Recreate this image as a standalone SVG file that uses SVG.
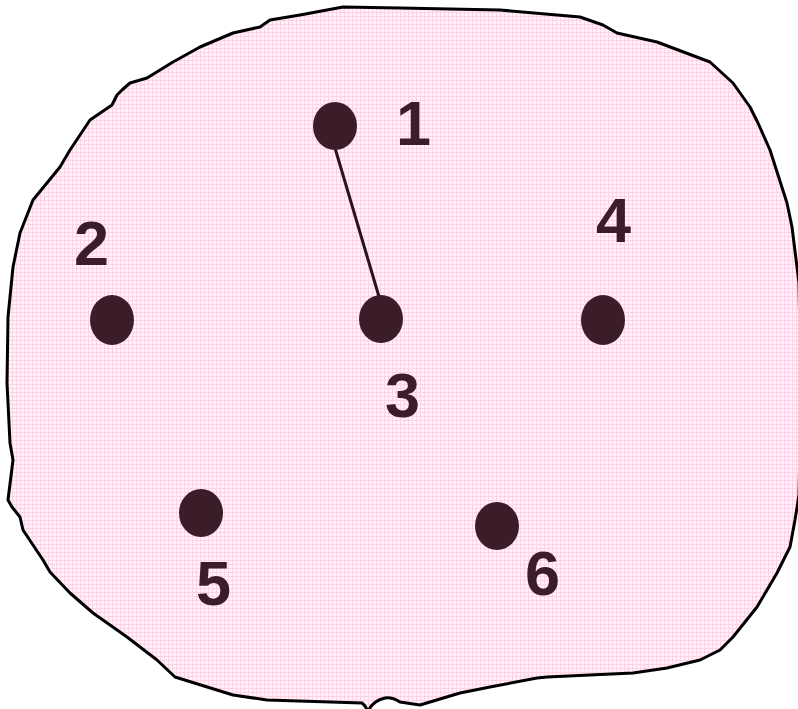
<svg xmlns="http://www.w3.org/2000/svg" width="798" height="709" viewBox="0 0 798 709">
<defs>
<pattern id="grid" width="4" height="4" patternUnits="userSpaceOnUse">
<rect width="4" height="4" fill="#fff2f8"/>
<rect width="4" height="1" fill="#fcd3e6"/>
<rect width="1" height="4" fill="#fcd3e6"/>
</pattern>
</defs>
<style>
.dot{fill:#3a1d28}
.lbl{font-family:"Liberation Sans",Arial,sans-serif;font-weight:bold;font-size:63px;fill:#3a1d28}
.edge{stroke:#2a141c;stroke-width:3;fill:none}
</style>
<g id="region">
<path d="M 400 702 L 420 705 L 460 693 L 490 687 L 537 678 L 547 677 L 633 673 L 667 668 L 700 660 L 720 650 L 733 637 L 757 607 L 777 573 L 790 547 L 795 520 L 799 495 L 801 400 L 799 283 L 792 227 L 787 203 L 770 150 L 758 123 L 750 107 L 733 83 L 710 62 L 657 42 L 617 33 L 603 25 L 580 17 L 500 10 L 400 8 L 343 7 L 300 15 L 270 20 L 260 27 L 233 33 L 200 47 L 173 62 L 147 78 L 130 83 L 122 90 L 117 95 L 112 105 L 90 120 L 70 150 L 60 167 L 33 200 L 20 233 L 13 267 L 8 317 L 7 383 L 10 443 L 13 460 L 8 500 L 12 507 L 20 517 L 23 530 L 43 560 L 50 572 L 70 593 L 93 613 L 127 637 L 157 660 L 175 677 L 233 695 L 267 700 L 362 703 Q 366 706 368 712 Q 372 701 385 698 Q 392 697 400 702 Z" fill="url(#grid)" stroke="#000" stroke-width="3" stroke-linejoin="round"/>
</g>
<g id="connectors">
<line class="edge" x1="335" y1="148" x2="380" y2="300"/>
</g>
<g id="node1"><ellipse class="dot" cx="335" cy="126" rx="22" ry="24"/><text class="lbl" x="396" y="145">1</text></g>
<g id="node2"><ellipse class="dot" cx="112" cy="320" rx="22" ry="25"/><text class="lbl" x="74" y="265">2</text></g>
<g id="node3"><ellipse class="dot" cx="381" cy="319" rx="22" ry="24"/><text class="lbl" x="385" y="417">3</text></g>
<g id="node4"><ellipse class="dot" cx="603" cy="320" rx="22" ry="25"/><text class="lbl" x="596" y="242">4</text></g>
<g id="node5"><ellipse class="dot" cx="201" cy="513" rx="22" ry="24"/><text class="lbl" x="196" y="605">5</text></g>
<g id="node6"><ellipse class="dot" cx="497" cy="526" rx="22" ry="24"/><text class="lbl" x="525" y="595">6</text></g>
</svg>
